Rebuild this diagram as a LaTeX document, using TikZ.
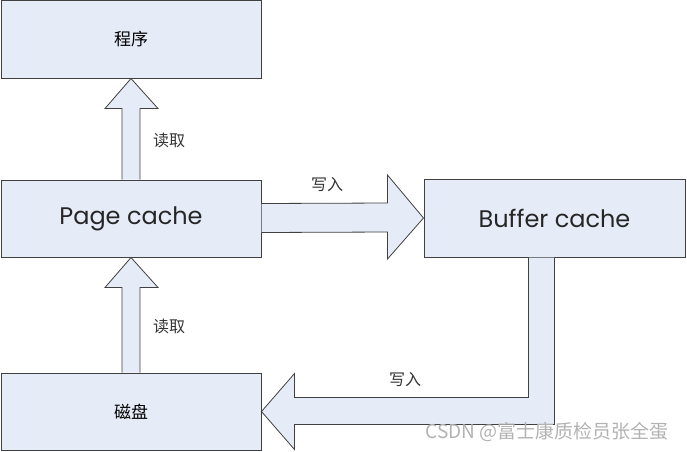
\documentclass[tikz,border=0pt]{standalone}
\usepackage{fontspec}
\setmainfont{Poppins}
\newfontfamily\cjk{Noto Sans CJK SC}
\usepackage{xcolor}
\usepackage{tikz}
\usetikzlibrary{positioning,calc}

\definecolor{boxfill}{HTML}{E6ECF7}
\definecolor{boxline}{HTML}{404040}

\begin{document}
\begin{tikzpicture}[
    x=1pt,y=-1pt,
    box/.style={draw=boxline, fill=boxfill, line width=1pt, inner sep=0pt},
    fat/.style={draw=boxline, fill=boxfill, line width=0.8pt, line join=miter},
    cn/.style={font=\cjk\fontsize{16}{16}\selectfont, text=black!80},
    en/.style={font=\fontsize{24}{24}\selectfont, text=black!85}
]
    \useasboundingbox (0,0) rectangle (687,451);

    \node[box, minimum width=260pt, minimum height=78pt] (prog) at (131,39)    {\cjk\fontsize{17}{17}\selectfont 程序};
    \node[box, minimum width=260pt, minimum height=77pt] (page) at (131,218.5) {};
    \node[en] at (page) {Page cache};
    \node[box, minimum width=261pt, minimum height=78pt] (buf)  at (554.5,218) {};
    \node[en] at (buf) {Buffer cache};
    \node[box, minimum width=260pt, minimum height=77pt] (disk) at (131,411.5) {\cjk\fontsize{17}{17}\selectfont 磁盘};

    % page cache -> program
    \draw[fat] ($(page.north)+(-9,0)$) -- ($(prog.south)+(-9,30)$) -- ($(prog.south)+(-26,30)$)
        -- (prog.south) -- ($(prog.south)+(27,30)$) -- ($(prog.south)+(9,30)$)
        -- ($(page.north)+(9,0)$);
    \node[cn] (read1) at (169,140) {读取};

    % disk -> page cache
    \draw[fat] ($(disk.north)+(-9,0)$) -- ($(page.south)+(-9,30)$) -- ($(page.south)+(-26,30)$)
        -- (page.south) -- ($(page.south)+(27,30)$) -- ($(page.south)+(9,30)$)
        -- ($(disk.north)+(9,0)$);
    \node[cn] (read2) at (169,326) {读取};

    % page cache -> buffer cache
    \draw[fat] ($(page.east)+(0,-15)$) -- ($(buf.west)+(-36,-15)$) -- ($(buf.west)+(-36,-43)$)
        -- (buf.west) -- ($(buf.west)+(-36,41)$) -- ($(buf.west)+(-36,14)$)
        -- ($(page.east)+(0,14)$);
    \node[cn] (write1) at (327,185) {写入};

    % buffer cache -> disk
    \coordinate (bend) at ($(buf.south)+(0,154)$);
    \draw[fat] ($(buf.south)+(-26,0)$) -- ($(bend)+(-26,-14)$) -- ($(disk.east)+(33,-14)$)
        -- ($(disk.east)+(33,-38)$) -- (disk.east) -- ($(disk.east)+(33,38)$)
        -- ($(disk.east)+(33,13)$) -- ($(bend)+(0,13)$) -- (buf.south);
    \node[cn] (write2) at (405,380) {写入};

    \node[font=\cjk\fontsize{19}{19}\selectfont, text=black!30] (mark) at (547,432) {CSDN @富士康质检员张全蛋};
\end{tikzpicture}
\end{document}
